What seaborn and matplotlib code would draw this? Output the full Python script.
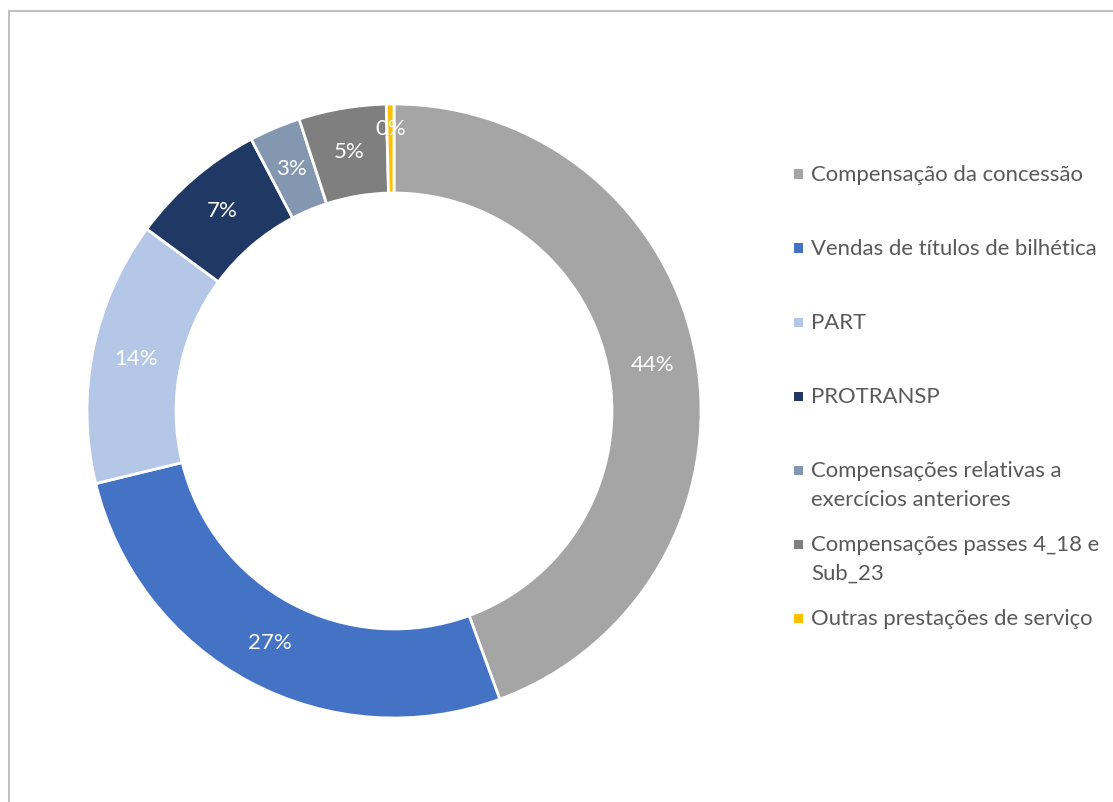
import numpy as np
import matplotlib
matplotlib.use("Agg")
import matplotlib.pyplot as plt
from matplotlib.patches import Rectangle
import seaborn as sns

# Revenue structure (share of total, %)
categories = [
    "Compensação da concessão",
    "Vendas de títulos de bilhética",
    "PART",
    "PROTRANSP",
    "Compensações relativas a\nexercícios anteriores",
    "Compensações passes 4_18 e\nSub_23",
    "Outras prestações de serviço",
]
shares = [44.4, 26.8, 13.9, 7.2, 2.7, 4.6, 0.4]
colors = ["#A5A5A5", "#4472C4", "#B4C7E7", "#203864", "#8497B0", "#7F7F7F", "#FFC000"]

sns.set_theme(style="white")
plt.rcParams["font.family"] = ["Lato", "DejaVu Sans"]

W, H = 1113, 802
fig = plt.figure(figsize=(W / 100, H / 100), dpi=100)
fig.patch.set_facecolor("white")


def fx(x):
    return x / W


def fy(y):
    return 1 - y / H


# chart area border
fig.patches.append(Rectangle((fx(8.5), fy(900)), fx(1300), fy(11.5) - fy(900),
                             transform=fig.transFigure, fill=False,
                             edgecolor="#BFBFBF", linewidth=1.4))

# donut
cx, cy, r = 394, 411, 307
ax = fig.add_axes([fx(cx - r), fy(cy + r), 2 * r / W, 2 * r / H])
wedges, _ = ax.pie(shares, colors=colors, startangle=90, counterclock=False,
                   radius=1.0,
                   wedgeprops=dict(width=0.29, edgecolor="white", linewidth=2))
ax.set_xlim(-1, 1)
ax.set_ylim(-1, 1)
ax.set_aspect("equal")
ax.axis("off")

for i, (w, v) in enumerate(zip(wedges, shares)):
    ang = np.deg2rad((w.theta1 + w.theta2) / 2)
    rr = 0.92 if v < 1 else 0.857
    ax.text(rr * np.cos(ang), rr * np.sin(ang), f"{v:.0f}%",
            ha="center", va="center", color="white", fontsize=16)

# legend
y0, step, line_h = 174, 74, 29
for i, (lab, col) in enumerate(zip(categories, colors)):
    y = y0 + i * step
    fig.patches.append(Rectangle((fx(794), fy(y + 4.5)), 9 / W, 9 / H,
                                 transform=fig.transFigure, facecolor=col,
                                 edgecolor="none"))
    for j, line in enumerate(lab.split("\n")):
        fig.text(fx(811), fy(y + 1 + j * line_h), line, ha="left", va="center",
                 color="#595959", fontsize=15.9)

fig.savefig("out.png", dpi=100, facecolor="white")
